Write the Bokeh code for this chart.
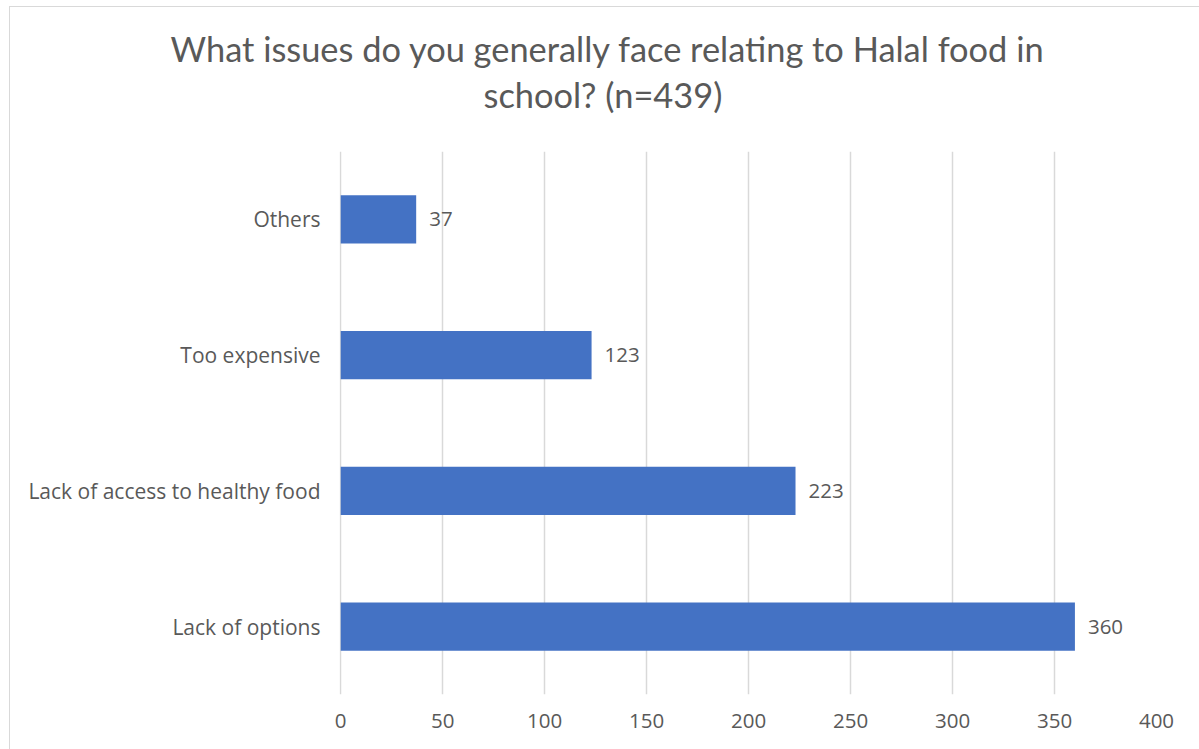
from bokeh.plotting import figure
from bokeh.models import FactorRange, Range1d, Title, ColumnDataSource, FixedTicker
from bokeh.core.properties import value
from bokeh.embed import file_html
from bokeh.resources import INLINE

categories = ["Lack of options", "Lack of access to healthy food", "Too expensive", "Others"]
counts = [360, 223, 123, 37]
x_ticks = [0, 50, 100, 150, 200, 250, 300, 350, 400]
title_lines = ["What issues do you generally face relating to Halal food in", "school? (n=439)"]

TXT = "#595959"
LABEL_FONT = "Open Sans"

src = ColumnDataSource(dict(cat=categories, val=counts, lab=[str(v) for v in counts]))

p = figure(width=1190, height=743, y_range=FactorRange(*categories), x_range=Range1d(-0.6, 400),
           output_backend="svg", toolbar_location=None,
           min_border_left=329, min_border_right=44, min_border_top=144, min_border_bottom=56)
p.margin = (6, 0, 0, 9)
p.styles = {"border-left": "1px solid #d9d9d9", "border-top": "1px solid #d9d9d9"}
p.outline_line_color = None
p.background_fill_color = "white"

p.hbar(y="cat", right="val", left=0, height=0.354, source=src, fill_color="#4472C4", line_color=None)
p.text(x="val", y="cat", text="lab", source=src, x_offset=13, text_baseline="middle", text_align="left",
       text_font=value(LABEL_FONT), text_font_size="20.5px", text_color=TXT)

p.xaxis.ticker = FixedTicker(ticks=x_ticks)
p.xaxis.axis_line_color = None
p.xaxis.major_tick_line_color = None
p.xaxis.minor_tick_line_color = None
p.xaxis.major_label_standoff = 13
p.xaxis.major_label_text_font = LABEL_FONT
p.xaxis.major_label_text_font_size = "20.5px"
p.xaxis.major_label_text_color = TXT

p.yaxis.axis_line_color = None
p.yaxis.major_tick_line_color = None
p.yaxis.major_label_standoff = 13
p.yaxis.major_label_text_font = LABEL_FONT
p.yaxis.major_label_text_font_size = "21px"
p.yaxis.major_label_text_color = TXT

p.ygrid.grid_line_color = None
p.xgrid.grid_line_color = "#d9d9d9"
p.xgrid.grid_line_width = 1.5

# spacer (innermost), then the two title lines; later-added titles sit further out
p.add_layout(Title(text=" ", standoff=10.5, text_font_size="20px", text_color="white"), "above")
p.add_layout(Title(text=title_lines[1], align="left", offset=144, standoff=2.5,
                   text_font="Lato", text_font_size="34.4px", text_color=TXT, text_font_style="normal"), "above")
p.add_layout(Title(text=title_lines[0], align="left", offset=-169, standoff=2.5,
                   text_font="Lato", text_font_size="34.4px", text_color=TXT, text_font_style="normal"), "above")

open("out.html", "w").write(file_html(p, INLINE))
